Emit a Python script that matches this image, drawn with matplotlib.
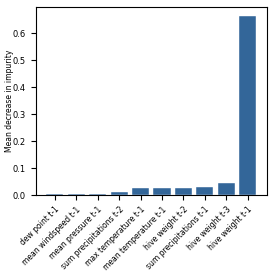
import matplotlib
matplotlib.use("Agg")
import matplotlib.pyplot as plt

features = ["dew point t-1", "mean windspeed t-1", "mean pressure t-1",
            "sum precipitations t-2", "max temperature t-1", "mean temperature t-1",
            "hive weight t-2", "sum precipitations t-1", "hive weight t-3", "hive weight t-1"]
importances = [0.006, 0.006, 0.006, 0.011, 0.025, 0.028, 0.028, 0.030, 0.045, 0.664]

fig, ax = plt.subplots(figsize=(2.75, 2.75), dpi=100)
ax.bar(range(len(features)), importances, color="#336699", edgecolor="white", linewidth=0.3)
ax.set_xticks(range(len(features)))
ax.set_xticklabels(features, rotation=45, ha="right", rotation_mode="anchor", fontsize=5.5)
ax.tick_params(axis="y", labelsize=6)
ax.set_ylabel("Mean decrease in impurity", fontsize=5.5)
fig.subplots_adjust(left=0.13, right=0.97, top=0.975, bottom=0.29)
ax.yaxis.set_label_coords(-0.095, 0.5)
fig.savefig("out.png", dpi=100)
